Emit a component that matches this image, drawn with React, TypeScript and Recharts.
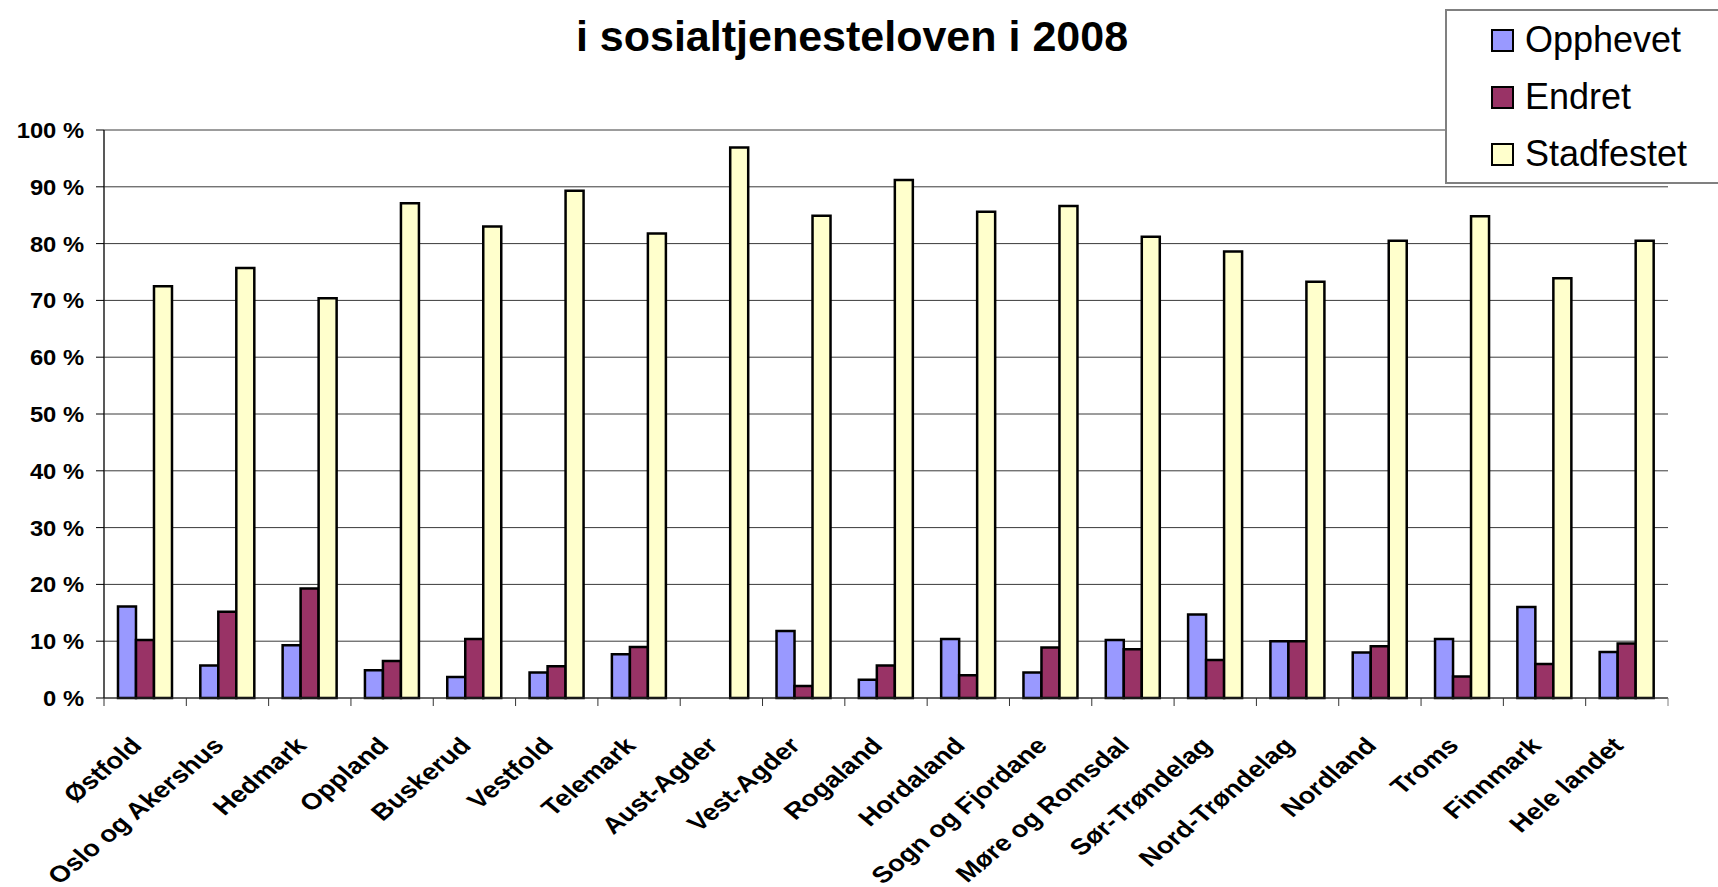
import { BarChart, Bar, XAxis, YAxis, CartesianGrid } from 'recharts';

const fylker = [
  'Østfold', 'Oslo og Akershus', 'Hedmark', 'Oppland', 'Buskerud', 'Vestfold', 'Telemark',
  'Aust-Agder', 'Vest-Agder', 'Rogaland', 'Hordaland', 'Sogn og Fjordane', 'Møre og Romsdal',
  'Sør-Trøndelag', 'Nord-Trøndelag', 'Nordland', 'Troms', 'Finnmark', 'Hele landet',
];
const opphevet = [16.1, 5.7, 9.3, 4.9, 3.7, 4.5, 7.7, 0, 11.8, 3.2, 10.4, 4.5, 10.2, 14.7, 10.0, 8.0, 10.4, 16.0, 8.1];
const endret = [10.2, 15.2, 19.3, 6.5, 10.4, 5.6, 9.0, 0, 2.1, 5.7, 4.0, 8.9, 8.6, 6.7, 10.0, 9.1, 3.8, 6.0, 9.6];
const stadfestet = [72.5, 75.7, 70.4, 87.1, 83.0, 89.3, 81.8, 96.9, 84.9, 91.2, 85.6, 86.6, 81.2, 78.6, 73.3, 80.5, 84.8, 73.9, 80.5];
const yTicks = [0, 10, 20, 30, 40, 50, 60, 70, 80, 90, 100];

const serier = [
  { key: 'opphevet', name: 'Opphevet', color: '#9999FF' },
  { key: 'endret', name: 'Endret', color: '#993366' },
  { key: 'stadfestet', name: 'Stadfestet', color: '#FFFFCC' },
];

const data = fylker.map((navn, i) => ({
  navn,
  opphevet: opphevet[i],
  endret: endret[i],
  stadfestet: stadfestet[i],
}));

const FONT = '"Liberation Sans", Arial, sans-serif';

// kategorinavn skrått (bildet er litt strukket i bredden), tikkstrek mellom kategoriene
function FylkeTick(props: any) {
  const { x, y, payload } = props;
  const off = payload.offset || 0;
  const left = x - off;
  const last = payload.index === fylker.length - 1;
  const ax = x - 2;
  const ay = y + 49;
  return (
    <g>
      <line x1={left} x2={left} y1={y} y2={y + 8} stroke="#333" />
      {last && <line x1={x + off} x2={x + off} y1={y} y2={y + 8} stroke="#808080" />}
      <text
        transform={`translate(${ax}, ${ay}) scale(1.2, 1) rotate(-45)`}
        textAnchor="end"
        fontFamily={FONT}
        fontWeight="bold"
        fontSize={23}
        fill="#000"
      >
        {payload.value}
      </text>
    </g>
  );
}

function ProsentTick(props: any) {
  const { x, y, payload } = props;
  return (
    <text
      transform={`translate(${x}, ${y}) scale(1.08, 1)`}
      dy="0.36em"
      textAnchor="end"
      fontFamily={FONT}
      fontWeight="bold"
      fontSize={22}
      fill="#000"
    >
      {`${payload.value} %`}
    </text>
  );
}

function Forklaring() {
  return (
    <div
      style={{
        position: 'absolute', left: 1445, top: 9, width: 290, height: 175, boxSizing: 'border-box',
        border: '2px solid #808080', background: '#fff', fontFamily: FONT,
      }}
    >
      {serier.map((s, i) => (
        <div
          key={s.key}
          style={{ position: 'absolute', left: 44, top: 29 + i * 57 - 18, height: 36, display: 'flex', alignItems: 'center' }}
        >
          <div style={{ width: 19, height: 19, background: s.color, border: '2px solid #000' }} />
          <span style={{ marginLeft: 11, fontSize: 36, lineHeight: '36px', color: '#000' }}>{s.name}</span>
        </div>
      ))}
    </div>
  );
}

export default function App() {
  return (
    <div style={{ position: 'absolute', left: 0, top: 0, width: 1718, height: 887, overflow: 'hidden', background: '#fff' }}>
      <div
        style={{
          position: 'absolute', left: 0, width: 1704, top: 13, textAlign: 'center',
          fontFamily: FONT, fontWeight: 'bold', fontSize: 43, lineHeight: '46px', color: '#000',
        }}
      >
        i sosialtjenesteloven i 2008
      </div>
      <BarChart
        width={1718}
        height={887}
        data={data}
        margin={{ top: 130, right: 50, left: 0, bottom: 0 }}
        barCategoryGap="17%"
        barGap={0}
      >
        <CartesianGrid vertical={false} stroke="#3a3a3a" />
        <XAxis
          dataKey="navn"
          interval={0}
          height={189}
          tickSize={0}
          tickMargin={0}
          tick={<FylkeTick />}
          axisLine={{ stroke: '#333' }}
        />
        <YAxis
          width={104}
          domain={[0, 100]}
          ticks={yTicks}
          tick={<ProsentTick />}
          tickSize={8}
          tickMargin={12}
          axisLine={{ stroke: '#222', strokeWidth: 1.5 }}
          tickLine={{ stroke: '#000' }}
        />
        <YAxis yAxisId="ramme" orientation="right" width={0} domain={[0, 100]} tick={false} tickLine={false} axisLine={{ stroke: '#808080', strokeWidth: 2 }} />
        {serier.map((s) => (
          <Bar
            key={s.key}
            dataKey={s.key}
            name={s.name}
            fill={s.color}
            stroke="#000"
            strokeWidth={2.5}
            isAnimationActive={false}
          />
        ))}
      </BarChart>
      <Forklaring />
    </div>
  );
}
